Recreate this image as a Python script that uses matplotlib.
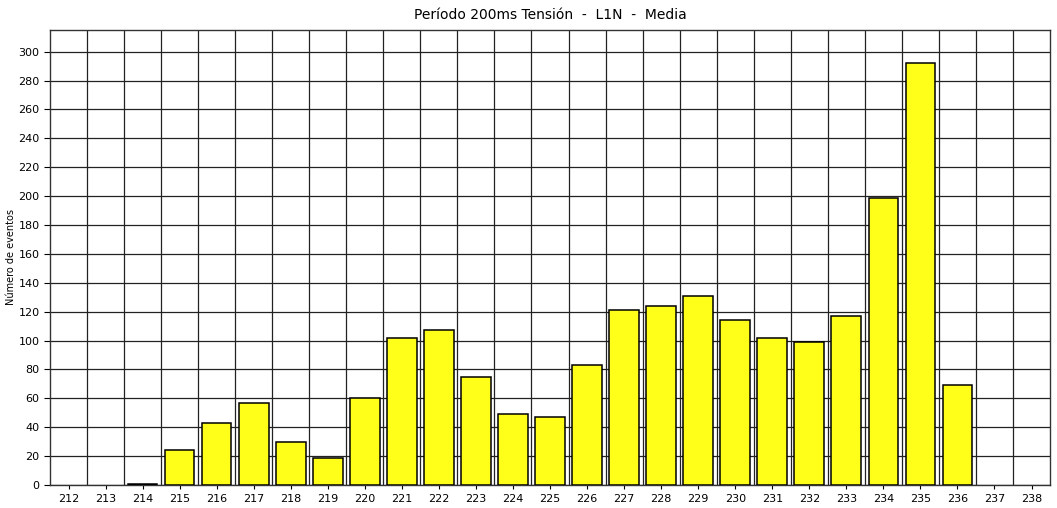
import matplotlib
matplotlib.use("Agg")
import matplotlib.pyplot as plt
import numpy as np

categories = list(range(212, 239))
values = [0, 0, 1, 24, 43, 57, 30, 19, 60, 102, 107, 75, 49, 47, 83,
          121, 124, 131, 114, 102, 99, 117, 199, 292, 69, 0, 0]

plt.rcParams["font.family"] = ["DejaVu Sans"]

fig = plt.figure(figsize=(10.57, 5.08), dpi=100)
ax = fig.add_axes([0.0473, 0.0453, 0.9461, 0.8957])

x = np.arange(len(categories))
# empty classes get no outline
edges = [1.1 if v > 0 else 0 for v in values]
ax.bar(x, values, width=0.8, color="#ffff1a", edgecolor="black", linewidth=edges, zorder=3)

ax.set_xlim(-0.5, len(categories) - 0.5)
ax.set_ylim(0, 315)
ax.set_xticks(x)
ax.set_xticklabels([str(c) for c in categories], fontsize=8)
ax.set_xticks(x[:-1] + 0.5, minor=True)
ax.set_yticks(np.arange(0, 301, 20))
ax.tick_params(axis="y", labelsize=8, length=4, width=0.8)
ax.tick_params(axis="x", which="major", length=3, width=0.8)
ax.tick_params(axis="x", which="minor", length=0)

ax.grid(True, axis="y", which="major", color="#222222", linewidth=0.9, zorder=0)
ax.grid(True, axis="x", which="minor", color="#222222", linewidth=0.9, zorder=0)
ax.grid(False, axis="x", which="major")

for s in ax.spines.values():
    s.set_color("#333333")
    s.set_linewidth(1.0)

ax.set_ylabel("Número de eventos", fontsize=7, labelpad=2)
ax.set_title("Período 200ms Tensión  -  L1N  -  Media", fontsize=10, pad=8)

fig.savefig("out.png", dpi=100)
